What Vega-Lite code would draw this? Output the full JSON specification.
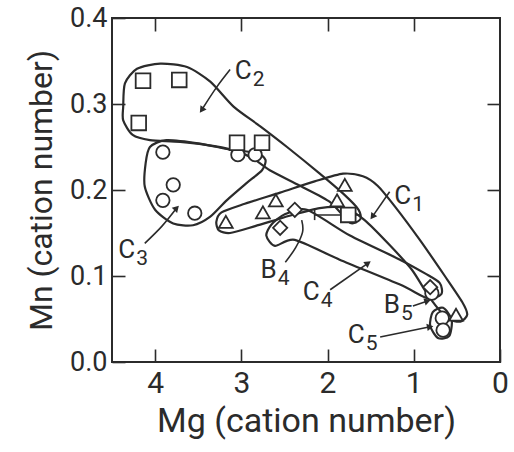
{
  "$schema": "https://vega.github.io/schema/vega-lite/v6.json",
  "width": 388,
  "height": 344,
  "autosize": {"type": "none"},
  "padding": {"left": 112, "top": 18, "right": 14, "bottom": 90},
  "background": "white",
  "config": {
    "view": {"stroke": "#2b2b2b", "strokeWidth": 2},
    "axis": {
      "domain": false, "grid": false, "tickSize": -13, "tickColor": "#2b2b2b", "tickWidth": 1.6,
      "labelFont": "Roboto", "labelColor": "#2b2b2b", "labelFlush": false, "labelOverlap": false,
      "titleFont": "Roboto", "titleFontWeight": "normal", "titleColor": "#2b2b2b"
    },
    "text": {"font": "Roboto", "color": "#2b2b2b"}
  },
  "datasets": {
    "envelopes": [
      {"env": "C2", "ord": 1, "mg": 4.37, "mn": 0.297},
      {"env": "C2", "ord": 2, "mg": 4.35, "mn": 0.324},
      {"env": "C2", "ord": 3, "mg": 4.21, "mn": 0.341},
      {"env": "C2", "ord": 4, "mg": 3.94, "mn": 0.347},
      {"env": "C2", "ord": 5, "mg": 3.63, "mn": 0.343},
      {"env": "C2", "ord": 6, "mg": 3.36, "mn": 0.326},
      {"env": "C2", "ord": 7, "mg": 3.09, "mn": 0.297},
      {"env": "C2", "ord": 8, "mg": 2.78, "mn": 0.274},
      {"env": "C2", "ord": 9, "mg": 2.47, "mn": 0.25},
      {"env": "C2", "ord": 10, "mg": 2.09, "mn": 0.219},
      {"env": "C2", "ord": 11, "mg": 1.8, "mn": 0.194},
      {"env": "C2", "ord": 12, "mg": 1.64, "mn": 0.177},
      {"env": "C2", "ord": 13, "mg": 1.62, "mn": 0.166},
      {"env": "C2", "ord": 14, "mg": 1.74, "mn": 0.162},
      {"env": "C2", "ord": 15, "mg": 1.97, "mn": 0.186},
      {"env": "C2", "ord": 16, "mg": 2.32, "mn": 0.205},
      {"env": "C2", "ord": 17, "mg": 2.67, "mn": 0.223},
      {"env": "C2", "ord": 18, "mg": 2.84, "mn": 0.235},
      {"env": "C2", "ord": 19, "mg": 3.02, "mn": 0.244},
      {"env": "C2", "ord": 20, "mg": 3.31, "mn": 0.251},
      {"env": "C2", "ord": 21, "mg": 3.71, "mn": 0.256},
      {"env": "C2", "ord": 22, "mg": 4.06, "mn": 0.258},
      {"env": "C2", "ord": 23, "mg": 4.26, "mn": 0.264},
      {"env": "C2", "ord": 24, "mg": 4.37, "mn": 0.281},

      {"env": "C3", "ord": 1, "mg": 4.06, "mn": 0.25},
      {"env": "C3", "ord": 2, "mg": 3.87, "mn": 0.258},
      {"env": "C3", "ord": 3, "mg": 3.48, "mn": 0.254},
      {"env": "C3", "ord": 4, "mg": 3.13, "mn": 0.247},
      {"env": "C3", "ord": 5, "mg": 2.82, "mn": 0.243},
      {"env": "C3", "ord": 6, "mg": 2.72, "mn": 0.235},
      {"env": "C3", "ord": 7, "mg": 2.76, "mn": 0.223},
      {"env": "C3", "ord": 8, "mg": 2.94, "mn": 0.208},
      {"env": "C3", "ord": 9, "mg": 3.17, "mn": 0.188},
      {"env": "C3", "ord": 10, "mg": 3.36, "mn": 0.169},
      {"env": "C3", "ord": 11, "mg": 3.56, "mn": 0.159},
      {"env": "C3", "ord": 12, "mg": 3.79, "mn": 0.161},
      {"env": "C3", "ord": 13, "mg": 4.0, "mn": 0.177},
      {"env": "C3", "ord": 14, "mg": 4.12, "mn": 0.204},
      {"env": "C3", "ord": 15, "mg": 4.11, "mn": 0.231},

      {"env": "C1", "ord": 1, "mg": 3.29, "mn": 0.163},
      {"env": "C1", "ord": 2, "mg": 3.23, "mn": 0.174},
      {"env": "C1", "ord": 3, "mg": 2.96, "mn": 0.184},
      {"env": "C1", "ord": 4, "mg": 2.55, "mn": 0.197},
      {"env": "C1", "ord": 5, "mg": 2.15, "mn": 0.21},
      {"env": "C1", "ord": 6, "mg": 1.82, "mn": 0.219},
      {"env": "C1", "ord": 7, "mg": 1.59, "mn": 0.216},
      {"env": "C1", "ord": 8, "mg": 1.42, "mn": 0.205},
      {"env": "C1", "ord": 9, "mg": 1.22, "mn": 0.181},
      {"env": "C1", "ord": 10, "mg": 0.93, "mn": 0.142},
      {"env": "C1", "ord": 11, "mg": 0.64, "mn": 0.1},
      {"env": "C1", "ord": 12, "mg": 0.44, "mn": 0.07},
      {"env": "C1", "ord": 13, "mg": 0.38, "mn": 0.055},
      {"env": "C1", "ord": 14, "mg": 0.46, "mn": 0.047},
      {"env": "C1", "ord": 15, "mg": 0.61, "mn": 0.051},
      {"env": "C1", "ord": 16, "mg": 0.81, "mn": 0.074},
      {"env": "C1", "ord": 17, "mg": 1.02, "mn": 0.107},
      {"env": "C1", "ord": 18, "mg": 1.28, "mn": 0.136},
      {"env": "C1", "ord": 19, "mg": 1.57, "mn": 0.165},
      {"env": "C1", "ord": 20, "mg": 1.8, "mn": 0.179},
      {"env": "C1", "ord": 21, "mg": 2.09, "mn": 0.179},
      {"env": "C1", "ord": 22, "mg": 2.44, "mn": 0.17},
      {"env": "C1", "ord": 23, "mg": 2.84, "mn": 0.158},
      {"env": "C1", "ord": 24, "mg": 3.13, "mn": 0.15},
      {"env": "C1", "ord": 25, "mg": 3.26, "mn": 0.153},

      {"env": "C4", "ord": 1, "mg": 2.71, "mn": 0.147},
      {"env": "C4", "ord": 2, "mg": 2.65, "mn": 0.16},
      {"env": "C4", "ord": 3, "mg": 2.49, "mn": 0.172},
      {"env": "C4", "ord": 4, "mg": 2.24, "mn": 0.177},
      {"env": "C4", "ord": 5, "mg": 1.74, "mn": 0.147},
      {"env": "C4", "ord": 6, "mg": 1.16, "mn": 0.119},
      {"env": "C4", "ord": 7, "mg": 0.87, "mn": 0.103},
      {"env": "C4", "ord": 8, "mg": 0.7, "mn": 0.092},
      {"env": "C4", "ord": 9, "mg": 0.68, "mn": 0.079},
      {"env": "C4", "ord": 10, "mg": 0.84, "mn": 0.074},
      {"env": "C4", "ord": 11, "mg": 1.16, "mn": 0.09},
      {"env": "C4", "ord": 12, "mg": 1.86, "mn": 0.119},
      {"env": "C4", "ord": 13, "mg": 2.38, "mn": 0.142},
      {"env": "C4", "ord": 14, "mg": 2.61, "mn": 0.135},

      {"env": "C5", "ord": 1, "mg": 0.78, "mn": 0.058},
      {"env": "C5", "ord": 2, "mg": 0.81, "mn": 0.042},
      {"env": "C5", "ord": 3, "mg": 0.72, "mn": 0.028},
      {"env": "C5", "ord": 4, "mg": 0.59, "mn": 0.03},
      {"env": "C5", "ord": 5, "mg": 0.56, "mn": 0.049},
      {"env": "C5", "ord": 6, "mg": 0.66, "mn": 0.063}
    ],
    "pointers": [
      {"id": "C2", "ord": 1, "mg": 3.13, "mn": 0.34},
      {"id": "C2", "ord": 2, "mg": 3.29, "mn": 0.319},
      {"id": "C2", "ord": 3, "mg": 3.46, "mn": 0.293},
      {"id": "C1", "ord": 1, "mg": 1.28, "mn": 0.198},
      {"id": "C1", "ord": 2, "mg": 1.48, "mn": 0.169},
      {"id": "C3", "ord": 1, "mg": 4.12, "mn": 0.138},
      {"id": "C3", "ord": 2, "mg": 3.92, "mn": 0.158},
      {"id": "C3", "ord": 3, "mg": 3.75, "mn": 0.179},
      {"id": "B4", "ord": 1, "mg": 2.49, "mn": 0.116},
      {"id": "B4", "ord": 2, "mg": 2.37, "mn": 0.133},
      {"id": "B4", "ord": 3, "mg": 2.29, "mn": 0.151},
      {"id": "B4", "ord": 4, "mg": 2.3, "mn": 0.165},
      {"id": "C4", "ord": 1, "mg": 1.97, "mn": 0.084},
      {"id": "C4", "ord": 2, "mg": 1.53, "mn": 0.115},
      {"id": "B5", "ord": 1, "mg": 1.01, "mn": 0.065},
      {"id": "B5", "ord": 2, "mg": 0.84, "mn": 0.071},
      {"id": "C5", "ord": 1, "mg": 1.39, "mn": 0.029},
      {"id": "C5", "ord": 2, "mg": 0.81, "mn": 0.041}
    ],
    "heads": [
      {"id": "C2", "mg": 3.46, "mn": 0.293, "dir": 215},
      {"id": "C1", "mg": 1.48, "mn": 0.169, "dir": 216},
      {"id": "C3", "mg": 3.75, "mn": 0.179, "dir": 44},
      {"id": "C4", "mg": 1.53, "mn": 0.115, "dir": 55},
      {"id": "B5", "mg": 0.84, "mn": 0.071, "dir": 72},
      {"id": "C5", "mg": 0.81, "mn": 0.041, "dir": 79}
    ],
    "errbar": [
      {"mg": 2.15, "mg_end": 1.62, "mn": 0.171, "mn_lo": 0.165, "mn_hi": 0.177}
    ],
    "samples": [
      {"kind": "circle", "mg": 3.91, "mn": 0.244},
      {"kind": "circle", "mg": 3.04, "mn": 0.241},
      {"kind": "circle", "mg": 2.84, "mn": 0.241},
      {"kind": "circle", "mg": 3.79, "mn": 0.206},
      {"kind": "circle", "mg": 3.91, "mn": 0.188},
      {"kind": "circle", "mg": 3.54, "mn": 0.173},
      {"kind": "circle", "mg": 0.79, "mn": 0.08},
      {"kind": "circle", "mg": 0.67, "mn": 0.051},
      {"kind": "circle", "mg": 0.66, "mn": 0.037},
      {"kind": "triangle", "mg": 3.18, "mn": 0.163},
      {"kind": "triangle", "mg": 2.75, "mn": 0.174},
      {"kind": "triangle", "mg": 2.6, "mn": 0.188},
      {"kind": "triangle", "mg": 1.8, "mn": 0.206},
      {"kind": "triangle", "mg": 1.89, "mn": 0.188},
      {"kind": "triangle", "mg": 0.51, "mn": 0.055},
      {"kind": "diamond", "mg": 2.38, "mn": 0.177},
      {"kind": "diamond", "mg": 2.55, "mn": 0.156},
      {"kind": "diamond", "mg": 0.81, "mn": 0.087},
      {"kind": "square", "mg": 4.14, "mn": 0.327},
      {"kind": "square", "mg": 3.72, "mn": 0.328},
      {"kind": "square", "mg": 4.19, "mn": 0.278},
      {"kind": "square", "mg": 3.05, "mn": 0.255},
      {"kind": "square", "mg": 2.76, "mn": 0.255},
      {"kind": "square", "mg": 1.76, "mn": 0.171}
    ],
    "labels": [
      {"lt": "C", "sub": "2", "mg": 2.88, "mn": 0.338},
      {"lt": "C", "sub": "1", "mg": 1.03, "mn": 0.193},
      {"lt": "C", "sub": "3", "mg": 4.23, "mn": 0.13},
      {"lt": "B", "sub": "4", "mg": 2.59, "mn": 0.107},
      {"lt": "C", "sub": "4", "mg": 2.09, "mn": 0.081},
      {"lt": "B", "sub": "5", "mg": 1.16, "mn": 0.066},
      {"lt": "C", "sub": "5", "mg": 1.57, "mn": 0.031}
    ]
  },
  "encoding": {
    "x": {"field": "mg", "type": "quantitative", "scale": {"domain": [0, 4.5], "reverse": true, "nice": false, "zero": false}, "axis": null},
    "y": {"field": "mn", "type": "quantitative", "scale": {"domain": [0, 0.4], "nice": false, "zero": false}, "axis": null}
  },
  "layer": [
    {
      "data": {"name": "envelopes"},
      "mark": {"type": "line", "interpolate": "cardinal-closed", "tension": 0.25, "color": "#2b2b2b", "strokeWidth": 2.2},
      "encoding": {
        "x": {"field": "mg", "type": "quantitative", "scale": {"domain": [0, 4.5], "reverse": true, "nice": false, "zero": false},
              "axis": {"orient": "bottom", "values": [0, 1, 2, 3, 4], "format": "d", "labelFontSize": 30, "labelPadding": 19,
                       "title": "Mg (cation number)", "titleFontSize": 34, "titlePadding": 6}},
        "y": {"field": "mn", "type": "quantitative", "scale": {"domain": [0, 0.4], "nice": false, "zero": false},
              "axis": {"orient": "left", "values": [0, 0.1, 0.2, 0.3, 0.4], "format": ".1f", "labelFontSize": 27, "labelPadding": 18,
                       "title": "Mn (cation number)", "titleFontSize": 32, "titlePadding": 11}},
        "detail": {"field": "env"},
        "order": {"field": "ord", "type": "quantitative"}
      }
    },
    {
      "data": {"name": "pointers"},
      "mark": {"type": "line", "interpolate": "cardinal", "color": "#2b2b2b", "strokeWidth": 1.6},
      "encoding": {
        "detail": {"field": "id"},
        "order": {"field": "ord", "type": "quantitative"}
      }
    },
    {
      "data": {"name": "heads"},
      "mark": {"type": "point", "shape": "triangle-up", "filled": true, "color": "#2b2b2b", "size": 55, "opacity": 1},
      "encoding": {
        "angle": {"field": "dir", "type": "quantitative", "scale": null}
      }
    },
    {
      "data": {"name": "errbar"},
      "mark": {"type": "rule", "color": "#2b2b2b", "strokeWidth": 1.6},
      "encoding": {
        "x": {"field": "mg", "type": "quantitative", "scale": {"domain": [0, 4.5], "reverse": true, "nice": false, "zero": false},
              "axis": {"orient": "top", "values": [1, 2, 3, 4], "labels": false, "title": null}},
        "x2": {"field": "mg_end"},
        "y": {"field": "mn", "type": "quantitative", "scale": {"domain": [0, 0.4], "nice": false, "zero": false},
              "axis": {"orient": "right", "values": [0.1, 0.2, 0.3], "labels": false, "title": null}}
      }
    },
    {
      "data": {"name": "errbar"},
      "mark": {"type": "rule", "color": "#2b2b2b", "strokeWidth": 1.6},
      "encoding": {
        "y": {"field": "mn_lo", "type": "quantitative", "axis": null},
        "y2": {"field": "mn_hi"}
      }
    },
    {
      "data": {"name": "samples"},
      "mark": {"type": "point", "filled": false, "fill": "white", "fillOpacity": 1, "stroke": "#2b2b2b", "strokeWidth": 1.8, "opacity": 1},
      "encoding": {
        "shape": {"field": "kind", "type": "nominal", "legend": null,
                  "scale": {"domain": ["circle", "triangle", "diamond", "square"], "range": ["circle", "triangle-up", "diamond", "square"]}},
        "size": {"field": "kind", "type": "nominal", "legend": null,
                 "scale": {"domain": ["circle", "triangle", "diamond", "square"], "range": [180, 215, 380, 235]}}
      }
    },
    {
      "data": {"name": "labels"},
      "mark": {"type": "text", "align": "right", "baseline": "middle", "fontSize": 26},
      "encoding": {"text": {"field": "lt"}}
    },
    {
      "data": {"name": "labels"},
      "mark": {"type": "text", "align": "left", "baseline": "middle", "fontSize": 21, "dx": 1, "dy": 9},
      "encoding": {"text": {"field": "sub"}}
    }
  ],
  "resolve": {"axis": {"x": "independent", "y": "independent"}}
}
